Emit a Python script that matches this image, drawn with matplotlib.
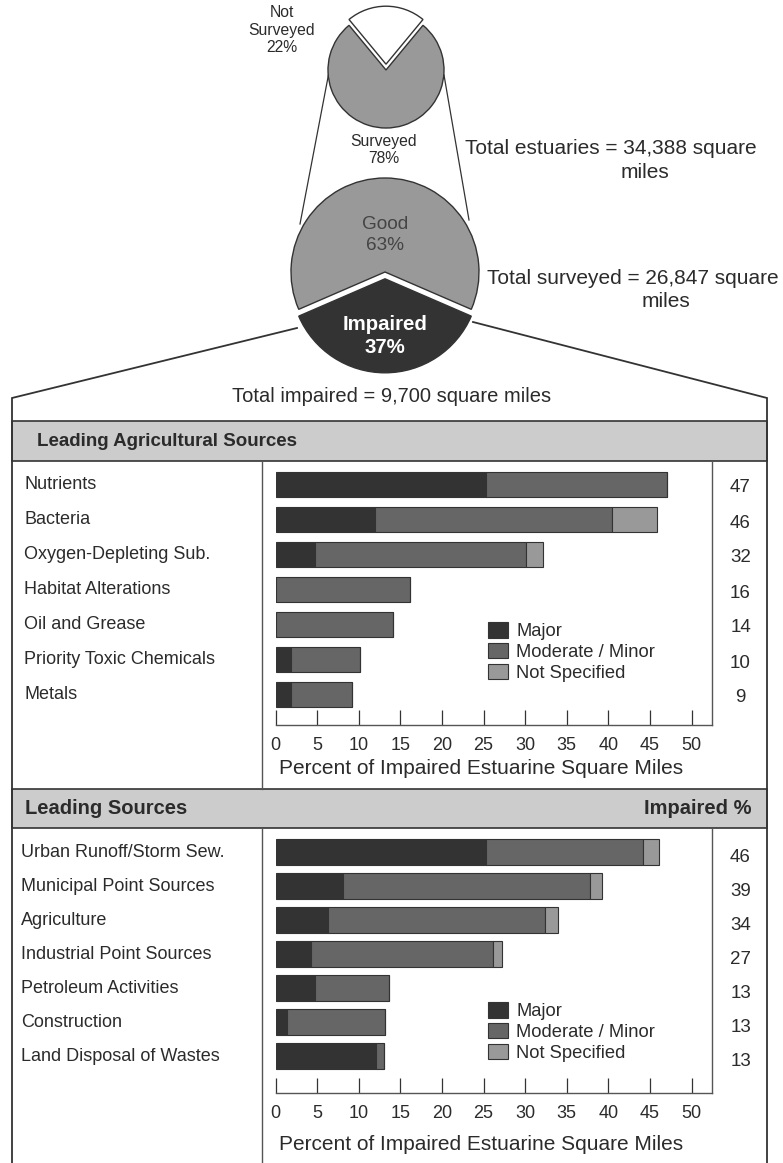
import numpy as np
import matplotlib
matplotlib.use("Agg")
import matplotlib.pyplot as plt
from matplotlib import transforms
from matplotlib.patches import Rectangle

plt.rcParams['font.family'] = ['Liberation Sans', 'DejaVu Sans']

# ---------------- data ----------------
survey_labels = ["Not\nSurveyed", "Surveyed"]
survey_pct = [22, 78]
condition_labels = ["Impaired", "Good"]
condition_pct = [37, 63]
total_estuaries = "34,388"
total_surveyed = "26,847"
total_impaired = "9,700"

agri_cats = ["Nutrients", "Bacteria", "Oxygen-Depleting Sub.", "Habitat Alterations",
             "Oil and Grease", "Priority Toxic Chemicals", "Metals"]
agri_major = [25.3, 12.0, 4.7, 0.0, 0.0, 1.9, 1.9]
agri_moderate = [21.7, 28.4, 25.4, 16.2, 14.1, 8.2, 7.3]
agri_notspec = [0.0, 5.5, 2.0, 0.0, 0.0, 0.0, 0.0]
agri_totals = [47, 46, 32, 16, 14, 10, 9]

src_cats = ["Urban Runoff/Storm Sew.", "Municipal Point Sources", "Agriculture",
            "Industrial Point Sources", "Petroleum Activities", "Construction",
            "Land Disposal of Wastes"]
src_major = [25.3, 8.1, 6.35, 4.3, 4.8, 1.35, 12.1]
src_moderate = [18.9, 29.7, 26.05, 21.8, 8.8, 11.85, 0.9]
src_notspec = [1.9, 1.4, 1.6, 1.1, 0.0, 0.0, 0.0]
src_totals = [46, 39, 34, 27, 13, 13, 13]

xticks = [0, 5, 10, 15, 20, 25, 30, 35, 40, 45, 50]
legend_labels = ["Major", "Moderate / Minor", "Not Specified"]
xlabel = "Percent of Impaired Estuarine Square Miles"

# ---------------- style ----------------
C_MAJOR = "#333333"
C_MOD = "#666666"
C_NS = "#999999"
C_PIE = "#999999"
C_HEAD = "#cccccc"
EDGE = "#333333"
TXT = "#2b2b2b"

W, H = 783, 1163
fig = plt.figure(figsize=(W / 100, H / 100), dpi=100)
fig.patch.set_facecolor("white")


def fx(x):
    return x / W


def fy(y):
    return 1 - y / H


# overlay axes in pixel coordinates (frames, headers, connector lines)
ov = fig.add_axes([0, 0, 1, 1], zorder=0)
ov.set_xlim(0, W)
ov.set_ylim(H, 0)
ov.axis("off")

# ---------------- pies ----------------
pax = fig.add_axes([0, 1 - 430 / H, 1, 430 / H], zorder=2)
# small pie: Not Surveyed centred at top
ns_share = survey_pct[0] / 100
pax.pie(survey_pct, colors=["white", C_PIE], startangle=90 - ns_share * 180,
        counterclock=True, radius=58, center=(386, -70), explode=[5.8, 0],
        wedgeprops=dict(edgecolor=EDGE, linewidth=1.0), frame=True)
# big pie: Impaired centred at bottom
imp_share = condition_pct[0] / 100
pax.pie(condition_pct, colors=[C_MAJOR, C_PIE], startangle=270 - imp_share * 180,
        counterclock=True, radius=94, center=(385, -272), explode=[6.8, 0],
        wedgeprops=dict(edgecolor=EDGE, linewidth=1.0), frame=True)
pax.set_aspect("auto")
pax.set_xlim(0, W)
pax.set_ylim(-430, 0)
pax.axis("off")

# connector lines between pies
ov.plot([329, 300], [72, 224], color=EDGE, lw=0.9)
ov.plot([444, 469], [75, 220], color=EDGE, lw=0.9)
# bracket from impaired slice to table
ov.plot([297, 12, 12], [328, 398, 1163], color=EDGE, lw=1.3, solid_joinstyle="miter")
ov.plot([473, 767, 767], [322, 398, 1163], color=EDGE, lw=1.3, solid_joinstyle="miter")

# pie texts
fig.text(fx(282), fy(30), f"{survey_labels[0]}\n{survey_pct[0]}%", ha="center", va="center",
         fontsize=11.3, color=TXT, linespacing=1.2)
fig.text(fx(384), fy(150), f"{survey_labels[1]}\n{survey_pct[1]}%", ha="center", va="center",
         fontsize=11.3, color=TXT, linespacing=1.2)
fig.text(fx(385), fy(235), f"{condition_labels[1]}\n{condition_pct[1]}%", ha="center", va="center",
         fontsize=13.7, color="#444444", linespacing=1.3)
fig.text(fx(385), fy(336), f"{condition_labels[0]}\n{condition_pct[0]}%", ha="center", va="center",
         fontsize=14.7, color="white", fontweight="bold", linespacing=1.3)
fig.text(fx(465), fy(149), f"Total estuaries = {total_estuaries} square", ha="left", va="center",
         fontsize=15, color=TXT)
fig.text(fx(645), fy(172), "miles", ha="center", va="center", fontsize=15, color=TXT)
fig.text(fx(487), fy(278), f"Total surveyed = {total_surveyed} square", ha="left", va="center",
         fontsize=15, color=TXT)
fig.text(fx(666), fy(301), "miles", ha="center", va="center", fontsize=15, color=TXT)
fig.text(fx(392), fy(397), f"Total impaired = {total_impaired} square miles", ha="center",
         va="center", fontsize=14.5, color=TXT)

# ---------------- table frame ----------------
ov.add_patch(Rectangle((12, 421), 755, 40, facecolor=C_HEAD, edgecolor=EDGE, lw=1.2))
ov.add_patch(Rectangle((12, 789), 755, 39, facecolor=C_HEAD, edgecolor=EDGE, lw=1.2))
ov.plot([262, 262], [461, 789], color="#555555", lw=1.0)
ov.plot([262, 262], [828, 1163], color="#555555", lw=1.0)
fig.text(fx(37), fy(441), "Leading Agricultural Sources", ha="left", va="center",
         fontsize=13.5, fontweight="bold", color=TXT)
fig.text(fx(25), fy(808), "Leading Sources", ha="left", va="center",
         fontsize=14.5, fontweight="bold", color=TXT)
fig.text(fx(752), fy(808), "Impaired %", ha="right", va="center",
         fontsize=14.5, fontweight="bold", color=TXT)


def panel(top, base, first_c, step, cats, major, moder, ns, totals,
          label_x, num_off, leg_top, tick_pad, xlabel_y):
    x0, x1 = 275.5, 712
    ax = fig.add_axes([fx(x0), fy(base), (x1 - x0) / W, (base - top) / H], zorder=1)
    ax.set_facecolor("none")
    n = len(cats)
    y = np.arange(n)
    h = 25.7 / step
    kw = dict(height=h, edgecolor=EDGE, linewidth=0.8)
    b1 = ax.barh(y, major, color=C_MAJOR, **kw)
    b2 = ax.barh(y, moder, left=major, color=C_MOD, **kw)
    b3 = ax.barh(y, ns, left=np.add(major, moder), color=C_NS, **kw)
    ax.set_xlim(0, (x1 - x0) / 8.32)
    ax.set_ylim((base - first_c) / step, (top - first_c) / step)
    ax.set_xticks(xticks)
    ax.set_yticks([])
    ax.tick_params(axis="x", direction="in", length=10.5, width=0.9, color=EDGE,
                   pad=tick_pad, labelsize=13, labelcolor=TXT)
    for s in ("top", "left"):
        ax.spines[s].set_visible(False)
    for s in ("bottom", "right"):
        ax.spines[s].set_color("#555555")
        ax.spines[s].set_linewidth(1.0)
    tr = transforms.blended_transform_factory(fig.transFigure, ax.transData)
    for i, c in enumerate(cats):
        ax.text(fx(label_x), i, c, transform=tr, ha="left", va="center",
                fontsize=13, color=TXT, clip_on=False)
        ax.text(fx(740.5), i + num_off, str(totals[i]), transform=tr, ha="center",
                va="center", fontsize=13.5, color=TXT, clip_on=False)
    ax.legend([b1, b2, b3], legend_labels, loc="upper left",
              bbox_to_anchor=(fx(488), fy(leg_top)), bbox_transform=fig.transFigure,
              frameon=False, fontsize=13.2, handlelength=1.1, handleheight=0.93,
              handletextpad=0.45, labelspacing=0.15, borderpad=0, borderaxespad=0,
              labelcolor=TXT)
    fig.text(fx(279), fy(xlabel_y), xlabel, ha="left", va="center", fontsize=15, color=TXT)
    return ax


panel(461, 725, 484.5, 35.0, agri_cats, agri_major, agri_moderate, agri_notspec,
      agri_totals, 24, 0.1, 622, 9, 768)
panel(828, 1092.7, 852.2, 34.0, src_cats, src_major, src_moderate, src_notspec,
      src_totals, 21.3, 0.15, 1002, 9, 1144)

fig.savefig("out.png", dpi=100)
